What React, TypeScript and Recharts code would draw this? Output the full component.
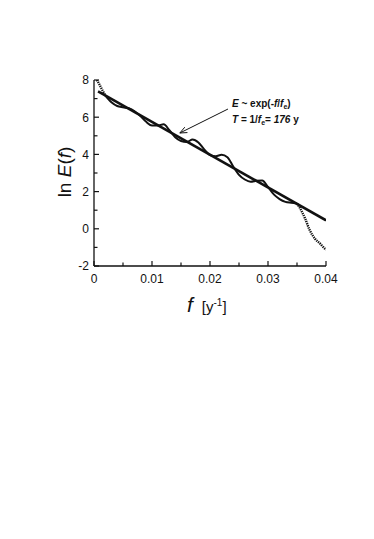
import React from "react";
import { Line, LineChart, ReferenceLine, XAxis, YAxis } from "recharts";

// frequency ticks (minor every 0.005, labels on the 0.01 ones)
const xTicks = [0, 0.005, 0.01, 0.015, 0.02, 0.025, 0.03, 0.035, 0.04];
const xLabels: Record<string, string> = {
	"0": "0",
	"0.01": "0.01",
	"0.02": "0.02",
	"0.03": "0.03",
	"0.04": "0.04",
};
const yTicks = [-2, -1, 0, 1, 2, 3, 4, 5, 6, 7, 8];
const yLabels: Record<string, string> = {
	"-2": "-2",
	"0": "0",
	"2": "2",
	"4": "4",
	"6": "6",
	"8": "8",
};

// ln E(f), dotted start of the spectrum
const headF = [0.0005, 0.001, 0.0015, 0.002];
const headE = [8.0, 7.72, 7.42, 7.15];

// ln E(f), solid wavy part
const waveF = [
	0.002, 0.003, 0.004, 0.005, 0.006, 0.007, 0.008, 0.009, 0.01, 0.011, 0.012,
	0.013, 0.014, 0.015, 0.016, 0.017, 0.018, 0.019, 0.02, 0.021, 0.022, 0.023,
	0.024, 0.025, 0.026, 0.027, 0.028, 0.029, 0.03, 0.031, 0.032, 0.033, 0.034,
	0.035,
];
const waveE = [
	7.15, 6.8, 6.6, 6.53, 6.48, 6.32, 6.06, 5.75, 5.55, 5.55, 5.62, 5.3, 4.92,
	4.72, 4.67, 4.8, 4.64, 4.27, 3.96, 3.9, 3.98, 3.85, 3.35, 2.9, 2.65, 2.53,
	2.58, 2.6, 2.25, 1.85, 1.6, 1.45, 1.4, 1.36,
];

// ln E(f), dotted tail
const tailF = [0.035, 0.0355, 0.0364, 0.0372, 0.0381, 0.039, 0.0398, 0.04];
const tailE = [1.36, 1.12, 0.55, -0.08, -0.53, -0.8, -1.07, -1.12];

// exponential fit, T = 176 y
const fitF = [0.0007, 0.04];
const fitE = [7.39, 0.46];

// arrow from the label to the fit line
const arrowFrom = { x: 0.0231, y: 6.44 };
const arrowTo = { x: 0.0148, y: 5.15 };

const toPoints = (fs: number[], es: number[]) =>
	fs.map((f, i) => ({ f, e: es[i] }));

const head = toPoints(headF, headE);
const wave = toPoints(waveF, waveE);
const tail = toPoints(tailF, tailE);
const fit = toPoints(fitF, fitE);

const INK = "#111";
const FONT = "'Liberation Sans', Arial, sans-serif";

const XTick = (props: any) => {
	const { x, y, payload } = props;
	const label = xLabels[String(payload.value)];
	return (
		<g>
			<line x1={x} x2={x} y1={y} y2={y - (label ? 5 : 3.5)} stroke={INK} strokeWidth={1.2} />
			{label && (
				<text x={x} y={y + 16.5} textAnchor="middle" fontSize={12} fontFamily={FONT} fill={INK}>
					{label}
				</text>
			)}
		</g>
	);
};

const YTick = (props: any) => {
	const { x, y, payload } = props;
	const label = yLabels[String(payload.value)];
	return (
		<g>
			<line x1={x} x2={x + (label ? 5 : 3.5)} y1={y} y2={y} stroke={INK} strokeWidth={1.2} />
			{label && (
				<text x={x - 5} y={y + 4.3} textAnchor="end" fontSize={12} fontFamily={FONT} fill={INK}>
					{label}
				</text>
			)}
		</g>
	);
};

const Arrow = (props: any) => {
	const { x1, y1, x2, y2 } = props;
	const ang = Math.atan2(y2 - y1, x2 - x1);
	const len = 7;
	const half = 3;
	const bx = x2 - len * Math.cos(ang);
	const by = y2 - len * Math.sin(ang);
	const px = -Math.sin(ang) * half;
	const py = Math.cos(ang) * half;
	return (
		<g>
			<line x1={x1} y1={y1} x2={x2} y2={y2} stroke={INK} strokeWidth={1} />
			<polyline
				points={`${bx + px},${by + py} ${x2},${y2} ${bx - px},${by - py}`}
				fill="none"
				stroke={INK}
				strokeWidth={1}
			/>
		</g>
	);
};

const sub: React.CSSProperties = { fontSize: 7, position: "relative", top: 2 };

export default function App() {
	return (
		<div style={{ position: "relative", width: 366, height: 360, fontFamily: FONT, color: INK }}>
			<LineChart
				width={366}
				height={360}
				margin={{ top: 72, right: 48, bottom: 72, left: 56 }}
			>
				<XAxis
					dataKey="f"
					type="number"
					domain={[0, 0.04]}
					ticks={xTicks}
					interval={0}
					height={30}
					tickSize={0}
					tickMargin={0}
					tickLine={false}
					tick={<XTick />}
					axisLine={{ stroke: INK, strokeWidth: 1.3 }}
					allowDataOverflow
				/>
				<YAxis
					type="number"
					domain={[-2, 8]}
					ticks={yTicks}
					interval={0}
					width={30}
					tickSize={0}
					tickMargin={0}
					tickLine={false}
					tick={<YTick />}
					axisLine={{ stroke: INK, strokeWidth: 1.3 }}
					allowDataOverflow
				/>
				<Line
					data={fit}
					dataKey="e"
					type="linear"
					stroke={INK}
					strokeWidth={2.6}
					dot={false}
					isAnimationActive={false}
				/>
				<Line
					data={wave}
					dataKey="e"
					type="monotone"
					stroke={INK}
					strokeWidth={2}
					dot={false}
					isAnimationActive={false}
				/>
				<Line
					data={head}
					dataKey="e"
					type="monotone"
					stroke={INK}
					strokeWidth={2.4}
					strokeDasharray="1.3 0.9"
					dot={false}
					isAnimationActive={false}
				/>
				<Line
					data={tail}
					dataKey="e"
					type="monotone"
					stroke={INK}
					strokeWidth={2.4}
					strokeDasharray="1.3 0.9"
					dot={false}
					isAnimationActive={false}
				/>
				<ReferenceLine segment={[arrowFrom, arrowTo]} shape={<Arrow />} />
			</LineChart>

			{/* y axis title */}
			<div
				style={{
					position: "absolute",
					left: 57 - 45,
					top: 164 - 11,
					width: 90,
					height: 22,
					lineHeight: "22px",
					fontSize: 19,
					textAlign: "center",
					whiteSpace: "nowrap",
					transform: "rotate(-90deg)",
				}}
			>
				ln <i>E</i>(<i>f</i>)
			</div>

			{/* x axis title */}
			<div
				style={{
					position: "absolute",
					left: 179,
					top: 285,
					lineHeight: "24px",
					whiteSpace: "nowrap",
				}}
			>
				<i style={{ fontSize: 21 }}>f</i>
				<span style={{ fontSize: 15, marginLeft: 9 }}>
					[y<span style={{ fontSize: 10, position: "relative", top: -6 }}>-1</span>]
				</span>
			</div>

			{/* fit annotation */}
			<div
				style={{
					position: "absolute",
					left: 224,
					top: 89,
					fontSize: 10,
					lineHeight: "14.5px",
					fontWeight: "bold",
					whiteSpace: "nowrap",
				}}
			>
				<div>
					<i>E</i> ~ exp(-<i>f</i>/<i>f</i>
					<span style={sub}>e</span>)
				</div>
				<div>
					<i>T</i> = 1/<i>f</i>
					<span style={sub}>e</span>= <i>176</i> y
				</div>
			</div>
		</div>
	);
}
